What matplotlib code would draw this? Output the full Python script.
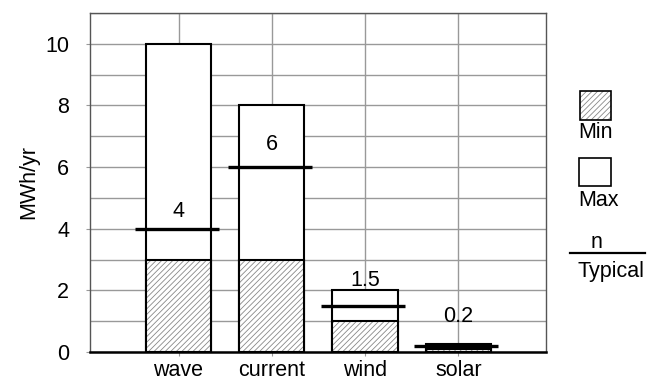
import matplotlib
matplotlib.use("Agg")
import matplotlib.pyplot as plt
from matplotlib.patches import Rectangle

plt.rcParams["font.family"] = ["Liberation Sans", "DejaVu Sans"]
plt.rcParams["hatch.linewidth"] = 0.6

# Annual energy ranges per source (MWh/yr)
categories = ["wave", "current", "wind", "solar"]
min_values = [3, 3, 1, 0.1]
max_values = [10, 8, 2, 0.25]
typical_values = [4, 6, 1.5, 0.2]
typical_labels = ["4", "6", "1.5", "0.2"]
label_heights = [4.22, 6.4, 1.98, 0.81]

y_ticks = [0, 2, 4, 6, 8, 10]

fs = 15.5

fig = plt.figure(figsize=(6.61, 3.81), dpi=100)
ax = fig.add_axes([0.136, 0.076, 0.69, 0.89])

x = range(len(categories))
bar_width = 0.70

# Max bars (plain outline)
ax.bar(x, max_values, width=bar_width, color="white",
       edgecolor="black", linewidth=1.5, zorder=3)

# Min bars (hatched, gray hatch then black outline)
ax.bar(x, min_values, width=bar_width, color="white",
       edgecolor="#888888", hatch="//////", linewidth=0, zorder=4)
ax.bar(x, min_values, width=bar_width, fill=False,
       edgecolor="black", linewidth=1.5, zorder=5)

# Typical values as thick horizontal lines
for i, value in enumerate(typical_values):
    ax.hlines(value, i - 0.47, i + 0.43, color="black",
              linewidth=2.4, zorder=6)
    ax.text(i, label_heights[i], typical_labels[i], ha="center",
            va="bottom", fontsize=fs, zorder=7)

ax.set_xlim(-0.95, 3.94)
ax.set_ylim(0, 11)
ax.set_xticks(list(x))
ax.set_xticklabels(categories, fontsize=fs)
ax.set_yticks(range(0, 12), minor=True)
ax.set_yticks(y_ticks)
ax.set_yticklabels([str(t) for t in y_ticks], fontsize=fs)
ax.set_ylabel("MWh/yr", fontsize=fs, labelpad=4)

ax.grid(True, which="minor", axis="y", color="#999999", linewidth=1.0, zorder=0)
ax.grid(True, which="major", axis="both", color="#999999", linewidth=1.0, zorder=0)
ax.tick_params(axis="both", which="both", length=3, color="#999999")
ax.tick_params(axis="y", which="major", pad=12)
ax.tick_params(axis="x", pad=3)
ax.tick_params(axis="y", which="minor", length=0)

for side in ["top", "right", "left"]:
    ax.spines[side].set_color("#555555")
    ax.spines[side].set_linewidth(1.0)
ax.spines["bottom"].set_color("black")
ax.spines["bottom"].set_linewidth(1.8)
ax.spines["bottom"].set_zorder(8)

# Custom legend on the right, in pixel coordinates
leg = fig.add_axes([0, 0, 1, 1], zorder=-1)
leg.set_xlim(0, 661)
leg.set_ylim(381, 0)
leg.axis("off")

leg.add_patch(Rectangle((580, 91), 31, 29, facecolor="white",
                        edgecolor="#888888", hatch="//////", linewidth=0))
leg.add_patch(Rectangle((580, 91), 31, 29, fill=False,
                        edgecolor="black", linewidth=1.2))
leg.text(578, 133, "Min", fontsize=fs, va="center", ha="left")

leg.add_patch(Rectangle((579, 158), 32, 28, facecolor="white",
                        edgecolor="black", linewidth=1.2))
leg.text(578, 200, "Max", fontsize=fs, va="center", ha="left")

leg.text(596, 243, "n", fontsize=fs, va="center", ha="center")
leg.plot([570, 645], [253, 253], color="black", linewidth=1.6)
leg.text(577, 271, "Typical", fontsize=fs, va="center", ha="left")

fig.savefig("out.png", dpi=100)
